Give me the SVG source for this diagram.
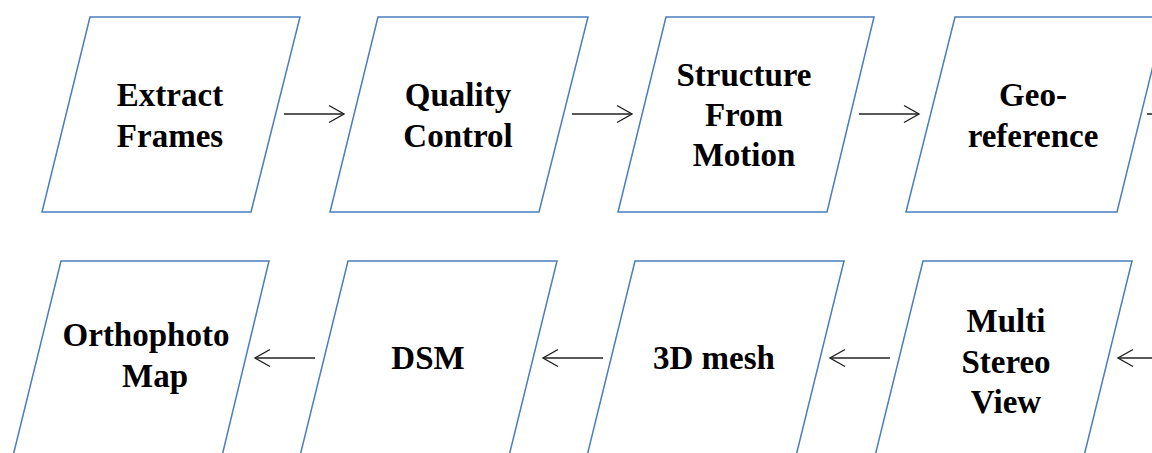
<svg xmlns="http://www.w3.org/2000/svg" width="1152" height="453" viewBox="0 0 1152 453">
<defs>
<style>
.n{fill:#fff;stroke:#4a7ebb;stroke-width:1.5}
.t{font-family:"Liberation Serif","Times New Roman",serif;font-weight:bold;font-size:33px;fill:#000;text-anchor:middle}
.c{stroke:#222;stroke-width:1.4;fill:none}
</style>
<marker id="ah" markerUnits="userSpaceOnUse" markerWidth="20" markerHeight="20" viewBox="-16 -10 20 20" refX="0" refY="0" orient="auto">
<path d="M-15,-8.5 L0,0 L-15,8.5" fill="none" stroke="#222" stroke-width="1.4"/>
</marker>
</defs>
<rect width="1152" height="453" fill="#fff"/>
<g id="n1"><polygon class="n" points="90,17 300,17 251,212 42,212"/><text class="t" x="170" y="106">Extract</text><text class="t" x="170" y="147">Frames</text></g>
<g id="n2"><polygon class="n" points="378,17 588,17 539,212 330,212"/><text class="t" x="458" y="106">Quality</text><text class="t" x="458" y="147">Control</text></g>
<g id="n3"><polygon class="n" points="666,17 874,17 827,212 618,212"/><text class="t" x="744" y="86">Structure</text><text class="t" x="744" y="126">From</text><text class="t" x="744" y="166">Motion</text></g>
<g id="n4"><polygon class="n" points="955,17 1165,17 1117,212 906,212"/><text class="t" x="1033" y="106">Geo-</text><text class="t" x="1033" y="147">reference</text></g>
<g id="n5"><polygon class="n" points="61,261 269,261 222,456 13,456"/><text class="t" x="146" y="346">Orthophoto</text><text class="t" x="155" y="387">Map</text></g>
<g id="n6"><polygon class="n" points="348,261 557,261 509,456 300,456"/><text class="t" x="428" y="369">DSM</text></g>
<g id="n7"><polygon class="n" points="635,261 844,261 796,456 587,456"/><text class="t" x="714" y="369">3D mesh</text></g>
<g id="n8"><polygon class="n" points="923,261 1132,261 1084,456 875,456"/><text class="t" x="1006" y="332">Multi</text><text class="t" x="1006" y="373">Stereo</text><text class="t" x="1006" y="413">View</text></g>
<g id="connectors">
<path class="c" d="M284,114 H344" marker-end="url(#ah)"/>
<path class="c" d="M572,114 H632" marker-end="url(#ah)"/>
<path class="c" d="M859,114 H919" marker-end="url(#ah)"/>
<path class="c" d="M1147,114 H1207" marker-end="url(#ah)"/>
<path class="c" d="M315,358 H255" marker-end="url(#ah)"/>
<path class="c" d="M603,358 H543" marker-end="url(#ah)"/>
<path class="c" d="M890,358 H830" marker-end="url(#ah)"/>
<path class="c" d="M1178,358 H1118" marker-end="url(#ah)"/>
</g>
</svg>
